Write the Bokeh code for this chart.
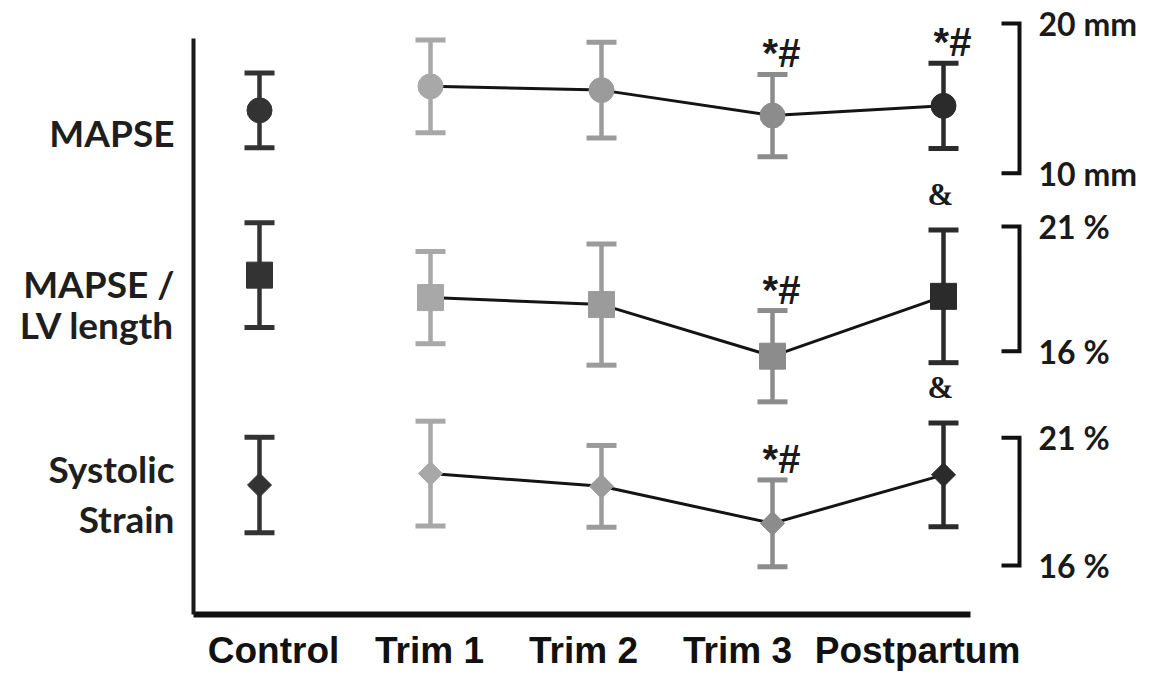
from bokeh.plotting import figure
from bokeh.models import Range1d, LinearAxis, FixedTicker, ColumnDataSource
from bokeh.core.properties import value
from bokeh.embed import file_html
from bokeh.resources import INLINE

# ---------------- data ----------------
categories = ["Control", "Trim 1", "Trim 2", "Trim 3", "Postpartum"]

mapse_mean = [14.2, 15.8, 15.55, 13.85, 14.5]      # mm
mapse_sd = [2.5, 3.1, 3.2, 2.75, 2.85]
mapse_marks = ["", "", "", "*#", "*#"]

lv_mean = [19.05, 18.15, 17.87, 15.8, 18.2]         # %
lv_sd = [2.1, 1.85, 2.43, 1.83, 2.66]
lv_marks = ["", "", "", "*#", "&"]

strain_mean = [19.15, 19.6, 19.1, 17.65, 19.55]     # %
strain_sd = [1.87, 2.05, 1.6, 1.7, 2.03]
strain_marks = ["", "", "", "*#", "&"]

scale_mapse = (10, 20, "mm")
scale_lv = (16, 21, "%")
scale_strain = (16, 21, "%")

panel_labels = ["MAPSE", "MAPSE /", "LV length", "Systolic", "Strain"]

# ---------------- layout (page pixels) ----------------
W, H = 1149, 678
OX, OY = 0, 0
FRAME_L, FRAME_R, FRAME_T, FRAME_B = 193, OX + W, OY, 614

def y_map(v_lo, px_lo, v_hi, px_hi):
    k = (v_hi - v_lo) / (px_lo - px_hi)
    return lambda px: v_lo + (px_lo - px) * k

def x_map(px0, step):
    return lambda px: (px - px0) / step

mm_at = y_map(scale_mapse[0], 172.7, scale_mapse[1], 23)
lv_at = y_map(scale_lv[0], 350.7, scale_lv[1], 226)
st_at = y_map(scale_strain[0], 565, scale_strain[1], 437.3)
x_at = x_map(259, 171.0)

p = figure(width=W, height=H, output_backend="svg", toolbar_location=None,
           x_range=Range1d(x_at(FRAME_L), x_at(FRAME_R)),
           y_range=Range1d(mm_at(FRAME_B), mm_at(FRAME_T)),
           x_axis_type=None, y_axis_type=None,
           min_border_left=FRAME_L - OX, min_border_right=0, min_border_top=0,
           min_border_bottom=OY + H - FRAME_B)
p.extra_y_ranges = {
    "lv": Range1d(lv_at(FRAME_B), lv_at(FRAME_T)),
    "strain": Range1d(st_at(FRAME_B), st_at(FRAME_T)),
}
p.outline_line_color = None
p.background_fill_color = "white"
p.border_fill_color = "white"

# left axis: line + panel names
label_px = [132, 283, 324, 468, 518]
label_ticks = [mm_at(v) for v in label_px]
yax = LinearAxis(ticker=FixedTicker(ticks=label_ticks),
                 major_label_overrides={t: s for t, s in zip(label_ticks, panel_labels)},
                 bounds=(mm_at(FRAME_B), mm_at(38)),
                 axis_line_width=4, axis_line_color="#1a1a1a",
                 major_tick_in=0, major_tick_out=0, minor_tick_in=0, minor_tick_out=0,
                 major_label_standoff=19, major_label_text_font="Lato",
                 major_label_text_font_style="bold", major_label_text_font_size="37px",
                 major_label_text_color="#1e1e1e")
p.add_layout(yax, "left")

# bottom axis: category names (label centres as placed in the figure)
xlabel_px = [273, 429, 583, 737, 917]
xlabel_ticks = [x_at(v) for v in xlabel_px]
xax = LinearAxis(ticker=FixedTicker(ticks=xlabel_ticks),
                 major_label_overrides={t: c for t, c in zip(xlabel_ticks, categories)},
                 bounds=(x_at(FRAME_L), x_at(970)),
                 axis_line_width=6, axis_line_color="#111111",
                 major_tick_in=0, major_tick_out=0, minor_tick_in=0, minor_tick_out=0,
                 major_label_standoff=15, major_label_text_font="Liberation Sans",
                 major_label_text_font_style="bold", major_label_text_font_size="37px",
                 major_label_text_color="#111111")
p.add_layout(xax, "below")

idx = list(range(len(categories)))
colors = ["#333333", "#a8a8a8", "#9b9b9b", "#8c8c8c", "#2b2b2b"]
panels = [
    ("default", mapse_mean, mapse_sd, mapse_marks, scale_mapse, "circle", 25, 0.0),
    ("lv", lv_mean, lv_sd, lv_marks, scale_lv, "square", 26, 0.0),
    ("strain", strain_mean, strain_sd, strain_marks, scale_strain, "square", 17, 0.785398),
]

bx_v, bx_t, bx_l = x_at(1019), x_at(1001), x_at(1038)

for rn, mean, sd, marks, scl, marker, msize, ang in panels:
    src = ColumnDataSource(dict(
        x=idx, mean=mean,
        upper=[m + s for m, s in zip(mean, sd)],
        lower=[m - s for m, s in zip(mean, sd)],
        color=colors, marks=marks))
    p.line(x=idx[1:], y=mean[1:], line_color="#141414", line_width=3, y_range_name=rn)
    p.segment(x0="x", y0="lower", x1="x", y1="upper", line_color="color",
              line_width=4.5, source=src, y_range_name=rn)
    for col in ("upper", "lower"):
        p.scatter(x="x", y=col, marker="dash", size=30, line_color="color",
                  line_width=5, source=src, y_range_name=rn)
    p.scatter(x="x", y="mean", marker=marker, size=msize, angle=ang,
              fill_color="color", line_color="color", source=src, y_range_name=rn)

    up = [m + s for m, s in zip(mean, sd)]
    star = [(i, u) for i, u, t in zip(idx, up, marks) if t == "*#"]
    amp = [(i, u) for i, u, t in zip(idx, up, marks) if t == "&"]
    if star:
        p.text(x=[a for a, _ in star], y=[b for _, b in star], text=["*#"] * len(star),
               text_font=value("Liberation Sans"), text_font_style="bold",
               text_font_size="40px", text_color="#1a1a1a", text_align="center",
               text_baseline="alphabetic", x_offset=9, y_offset=-21, y_range_name=rn)
    if amp:
        p.text(x=[a for a, _ in amp], y=[b for _, b in amp], text=["&"] * len(amp),
               text_font=value("Liberation Serif"), text_font_style="bold",
               text_font_size="31px", text_color="#1a1a1a", text_align="center",
               text_baseline="alphabetic", x_offset=-3, y_offset=-35, y_range_name=rn)

    lo, hi, unit = scl
    p.line(x=[bx_t, bx_v, bx_v, bx_t], y=[hi, hi, lo, lo], line_color="#111111",
           line_width=4, line_join="miter", y_range_name=rn)
    p.text(x=[bx_l, bx_l], y=[hi, lo], text=[f"{hi} {unit}", f"{lo} {unit}"],
           text_font=value("Lato"), text_font_style="bold", text_font_size="32px",
           text_color="#1a1a1a", text_align="left", text_baseline="middle",
           y_range_name=rn)

open("out.html", "w").write(file_html(p, INLINE))
